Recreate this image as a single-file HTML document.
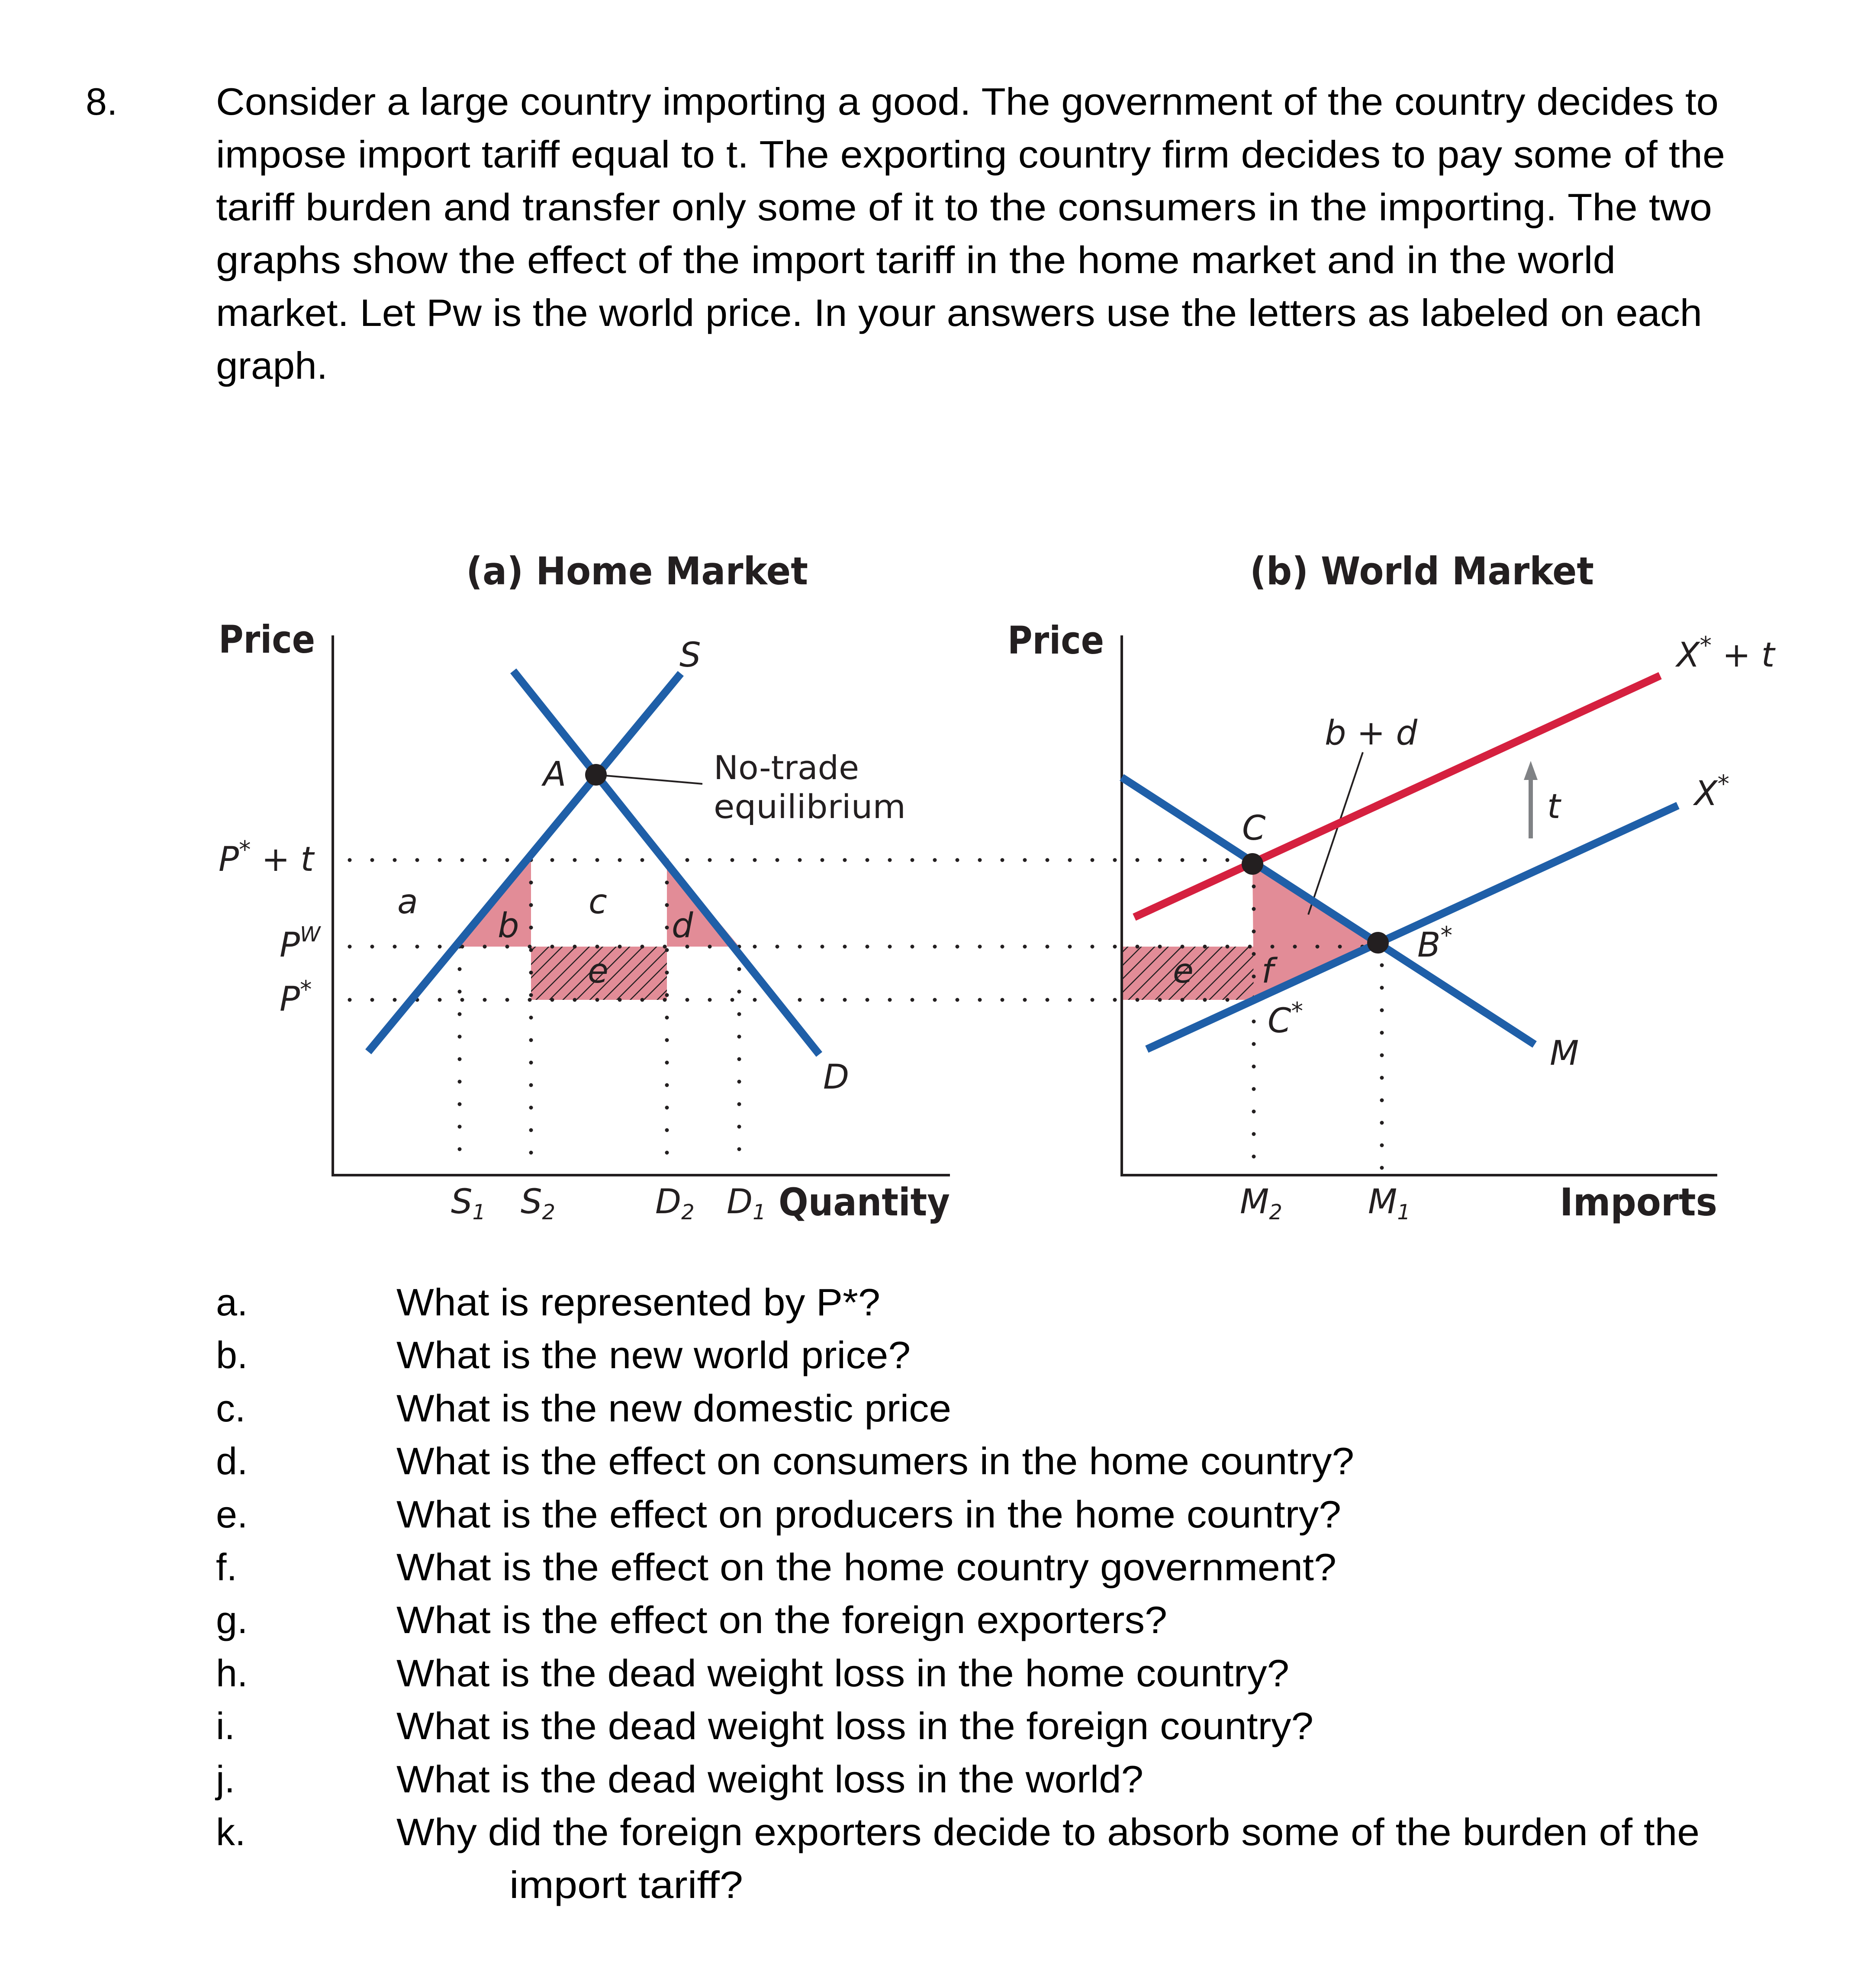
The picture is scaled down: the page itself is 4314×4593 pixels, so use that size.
<!DOCTYPE html>
<html><head><meta charset="utf-8"><style>
html,body{margin:0;padding:0;background:#fff;}
svg{display:block;}
.q{font-family:"Liberation Sans",sans-serif;font-size:88px;fill:#000;}
.g{font-family:"DejaVu Sans","Liberation Sans",sans-serif;fill:#231f20;}
.b{font-weight:bold;font-size:88px;}
.i{font-style:italic;font-size:78px;}
.n{font-size:76px;}
</style></head><body>
<svg width="4314" height="4593" viewBox="0 0 4314 4593" xmlns="http://www.w3.org/2000/svg">
<defs>
<pattern id="h" width="22" height="22" patternUnits="userSpaceOnUse" patternTransform="rotate(45)">
<rect width="22" height="22" fill="#e28c97"/>
<line x1="0" y1="0" x2="0" y2="22" stroke="#231f20" stroke-width="5"/>
</pattern>
</defs>
<rect width="4314" height="4593" fill="#fff"/>
<g class="q">
<text x="198" y="265">8.</text>
<text x="499" y="265" textLength="3472" lengthAdjust="spacingAndGlyphs">Consider a large country importing a good. The government of the country decides to</text>
<text x="499" y="387" textLength="3487" lengthAdjust="spacingAndGlyphs">impose import tariff equal to t. The exporting country firm decides to pay some of the</text>
<text x="499" y="509" textLength="3457" lengthAdjust="spacingAndGlyphs">tariff burden and transfer only some of it to the consumers in the importing. The two</text>
<text x="499" y="631" textLength="3234" lengthAdjust="spacingAndGlyphs">graphs show the effect of the import tariff in the home market and in the world</text>
<text x="499" y="753" textLength="3434" lengthAdjust="spacingAndGlyphs">market.  Let Pw is the world price. In your answers use the letters as labeled on each</text>
<text x="499" y="875" textLength="258" lengthAdjust="spacingAndGlyphs">graph.</text>
</g>
<g class="g b">
<text x="1077" y="1350" textLength="790" lengthAdjust="spacingAndGlyphs">(a) Home Market</text>
<text x="505" y="1508" textLength="223" lengthAdjust="spacingAndGlyphs">Price</text>
<text x="2888" y="1350" textLength="795" lengthAdjust="spacingAndGlyphs">(b) World Market</text>
<text x="2328" y="1510" textLength="223" lengthAdjust="spacingAndGlyphs">Price</text>
<text x="1799" y="2808" textLength="396" lengthAdjust="spacingAndGlyphs">Quantity</text>
<text x="3604" y="2808" textLength="364" lengthAdjust="spacingAndGlyphs">Imports</text>
</g>
<polygon points="1062,2187 1227,2187 1227,1975" fill="#e28c97"/>
<polygon points="1541,1987 1541,2187 1708,2187" fill="#e28c97"/>
<rect x="1227" y="2187" width="314" height="123" fill="url(#h)"/>
<rect x="2592" y="2187" width="305" height="123" fill="url(#h)"/>
<polygon points="2894,1996 2897,2311 3184,2178" fill="#e28c97"/>
<g stroke="#231f20" stroke-width="9" stroke-linecap="round" stroke-dasharray="0 52" fill="none">
<line x1="808" y1="1987" x2="2894" y2="1987"/>
<line x1="808" y1="2187" x2="3184" y2="2187"/>
<line x1="808" y1="2310" x2="2897" y2="2310"/>
<line x1="1062" y1="2187" x2="1062" y2="2700"/>
<line x1="1227" y1="1987" x2="1227" y2="2700"/>
<line x1="1541" y1="1987" x2="1541" y2="2700"/>
<line x1="1708" y1="2187" x2="1708" y2="2700"/>
<line x1="2897" y1="1996" x2="2897" y2="2700"/>
<line x1="3193" y1="2178" x2="3193" y2="2700"/>
</g>
<g stroke="#231f20" stroke-width="6" fill="none">
<polyline points="769,1468 769,2715 2195,2715"/>
<polyline points="2592,1468 2592,2715 3968,2715"/>
<line x1="1377" y1="1790" x2="1623" y2="1811" stroke-width="4"/>
<line x1="3149" y1="1738" x2="3023" y2="2113" stroke-width="4"/>
</g>
<g stroke="#1f5fa8" stroke-width="18" fill="none">
<line x1="851" y1="2430" x2="1573" y2="1556"/>
<line x1="1186" y1="1550" x2="1893" y2="2436"/>
<line x1="2592" y1="1796" x2="3546" y2="2413"/>
<line x1="2650" y1="2424" x2="3877" y2="1861"/>
</g>
<line x1="2621" y1="2119" x2="3836" y2="1561" stroke="#d5203f" stroke-width="18"/>
<line x1="3537" y1="1937" x2="3537" y2="1795" stroke="#808285" stroke-width="10"/>
<polygon points="3537,1758 3521,1802 3553,1802" fill="#808285"/>
<circle cx="1377" cy="1790" r="25" fill="#231f20"/>
<circle cx="2894" cy="1996" r="25" fill="#231f20"/>
<circle cx="3184" cy="2178" r="25" fill="#231f20"/>
<g class="g i">
<text x="505" y="2012">P<tspan font-size="55" dy="-30">*</tspan><tspan dy="30"> + t</tspan></text>
<text x="646" y="2210">P<tspan font-size="48" dy="-35">W</tspan></text>
<text x="646" y="2335">P<tspan font-size="55" dy="-30">*</tspan></text>
<text x="918" y="2110">a</text>
<text x="1150" y="2165">b</text>
<text x="1360" y="2110">c</text>
<text x="1552" y="2165">d</text>
<text x="1358" y="2270">e</text>
<text x="1255" y="1815">A</text>
<text x="1570" y="1540">S</text>
<text x="1902" y="2515">D</text>
<text x="1042" y="2803">S<tspan font-size="48" dy="14">1</tspan></text>
<text x="1203" y="2803">S<tspan font-size="48" dy="14">2</tspan></text>
<text x="1514" y="2803">D<tspan font-size="48" dy="14">2</tspan></text>
<text x="1679" y="2803">D<tspan font-size="48" dy="14">1</tspan></text>
<text x="2870" y="1940">C</text>
<text x="3061" y="1720">b + d</text>
<text x="3575" y="1890">t</text>
<text x="3874" y="1540">X<tspan font-size="55" dy="-30">*</tspan><tspan dy="30"> + t</tspan></text>
<text x="3915" y="1860">X<tspan font-size="55" dy="-30">*</tspan></text>
<text x="3275" y="2210">B<tspan font-size="55" dy="-30">*</tspan></text>
<text x="2710" y="2270">e</text>
<text x="2915" y="2270">f</text>
<text x="2929" y="2385">C<tspan font-size="55" dy="-30">*</tspan></text>
<text x="3581" y="2460">M</text>
<text x="2865" y="2803">M<tspan font-size="48" dy="14">2</tspan></text>
<text x="3161" y="2803">M<tspan font-size="48" dy="14">1</tspan></text>
</g>
<g class="g n">
<text x="1649" y="1800" textLength="336" lengthAdjust="spacingAndGlyphs">No-trade</text>
<text x="1649" y="1890" textLength="444" lengthAdjust="spacingAndGlyphs">equilibrium</text>
</g>
<g class="q">
<text x="499" y="3039">a.</text><text x="916" y="3039" textLength="1118" lengthAdjust="spacingAndGlyphs">What is represented by P*?</text>
<text x="499" y="3161">b.</text><text x="916" y="3161" textLength="1188" lengthAdjust="spacingAndGlyphs">What is the new world price?</text>
<text x="499" y="3284">c.</text><text x="916" y="3284" textLength="1282" lengthAdjust="spacingAndGlyphs">What is the new domestic price</text>
<text x="499" y="3406">d.</text><text x="916" y="3406" textLength="2213" lengthAdjust="spacingAndGlyphs">What is the effect on consumers in the home country?</text>
<text x="499" y="3529">e.</text><text x="916" y="3529" textLength="2183" lengthAdjust="spacingAndGlyphs">What is the effect on producers in the home country?</text>
<text x="499" y="3651">f.</text><text x="916" y="3651" textLength="2172" lengthAdjust="spacingAndGlyphs">What is the effect on the home country government?</text>
<text x="499" y="3773">g.</text><text x="916" y="3773" textLength="1781" lengthAdjust="spacingAndGlyphs">What is the effect on the foreign exporters?</text>
<text x="499" y="3896">h.</text><text x="916" y="3896" textLength="2063" lengthAdjust="spacingAndGlyphs">What is the dead weight loss in the home country?</text>
<text x="499" y="4018">i.</text><text x="916" y="4018" textLength="2119" lengthAdjust="spacingAndGlyphs">What is the dead weight loss in the foreign country?</text>
<text x="499" y="4141">j.</text><text x="916" y="4141" textLength="1726" lengthAdjust="spacingAndGlyphs">What is the dead weight loss in the world?</text>
<text x="499" y="4263">k.</text><text x="916" y="4263" textLength="3011" lengthAdjust="spacingAndGlyphs">Why did the foreign exporters decide to absorb some of the burden of the</text>
<text x="1177" y="4385" textLength="540" lengthAdjust="spacingAndGlyphs">import tariff?</text>
</g>
</svg>
</body></html>
